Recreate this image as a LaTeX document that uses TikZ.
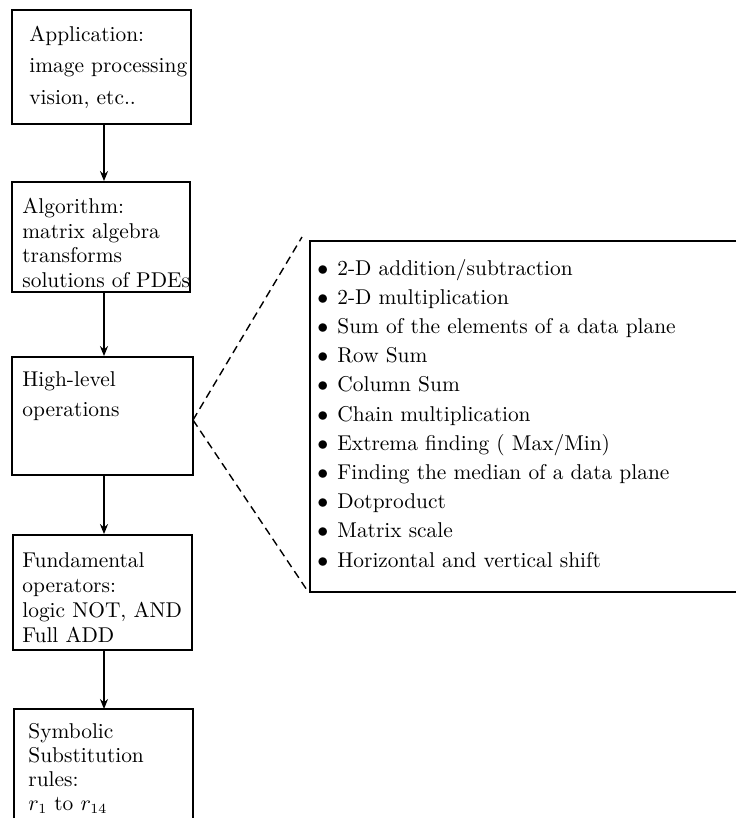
\documentclass[tikz,border=0pt]{standalone}
\usetikzlibrary{arrows.meta}
\begin{document}
\begin{tikzpicture}[x=0.5pt,y=-0.5pt,
  box/.style={draw, line width=0.9pt, inner sep=0pt},
  lbl/.style={anchor=base west, align=left, inner sep=0pt},
  arr/.style={line width=0.9pt, -{Stealth[length=5pt,width=4pt]}},
  dsh/.style={line width=0.7pt, dash pattern=on 4pt off 2.5pt},
  edge/.style={line width=0.9pt}]
\useasboundingbox (0,0) rectangle (736,826);

% boxes
\node[box, minimum width=89.5pt, minimum height=57pt] (b1) at (101.5,67) {};
\node[box, minimum width=89pt, minimum height=55pt] (b2) at (101,237) {};
\node[box, minimum width=90.5pt, minimum height=59pt] (b3) at (102.5,416) {};
\node[box, minimum width=89.5pt, minimum height=57.5pt] (b4) at (102.5,592.5) {};
\coordinate (b5tl) at (14,709);
\coordinate (b5tr) at (193,709);
\coordinate (b5top) at (104,709);
\draw[edge] (14,818) -- (b5tl) -- (b5tr) -- (193,818);

% texts (base anchor = baseline of the last line)
\node[lbl, font=\fontsize{10.7}{15.75}\selectfont] (t1) at (29,104)
  {Application:\\image processing\\vision, etc..};
\node[lbl, font=\fontsize{10.7}{12.2}\selectfont] (t2) at (22,287)
  {Algorithm:\\matrix algebra\\transforms\\solutions of PDEs};
\node[lbl, font=\fontsize{10.7}{15}\selectfont] (t3) at (22,416)
  {High-level\\operations};
\node[lbl, font=\fontsize{10.7}{12.5}\selectfont] (t4) at (22,642)
  {Fundamental\\operators:\\logic NOT, AND\\Full ADD};
\node[lbl, font=\fontsize{10.7}{11.9}\selectfont] (t5) at (28,810)
  {Symbolic\\Substitution\\rules:\\$r_1$ to $r_{14}$};

% arrows
\draw[arr] (b1.south -| b5top) -- (b2.north -| b5top);
\draw[arr] (b2.south -| b5top) -- (b3.north -| b5top);
\draw[arr] (b3.south -| b5top) -- (b4.north -| b5top);
\draw[arr] (b4.south -| b5top) -- (b5top);

% right list box (open at the right edge)
\coordinate (rtl) at (310,241);
\coordinate (rbl) at (310,592);
\draw[edge] (736,241) -- (rtl) -- (rbl) -- (736,592);
\node[lbl, font=\fontsize{10.7}{14.6}\selectfont] (list) at (317,567)
  {\makebox[10pt][l]{$\bullet$}2-D addition/subtraction\\
   \makebox[10pt][l]{$\bullet$}2-D multiplication\\
   \makebox[10pt][l]{$\bullet$}Sum of the elements of a data plane\\
   \makebox[10pt][l]{$\bullet$}Row Sum\\
   \makebox[10pt][l]{$\bullet$}Column Sum\\
   \makebox[10pt][l]{$\bullet$}Chain multiplication\\
   \makebox[10pt][l]{$\bullet$}Extrema finding ( Max/Min)\\
   \makebox[10pt][l]{$\bullet$}Finding the median of a data plane\\
   \makebox[10pt][l]{$\bullet$}Dotproduct\\
   \makebox[10pt][l]{$\bullet$}Matrix scale\\
   \makebox[10pt][l]{$\bullet$}Horizontal and vertical shift};

% dashed zoom lines
\coordinate (dp) at (193,420);
\coordinate (dtop) at (302,237);
\coordinate (dbot) at (307,590);
\draw[dsh] (dp) -- (dtop);
\draw[dsh] (dp) -- (dbot);
\end{tikzpicture}
\end{document}
